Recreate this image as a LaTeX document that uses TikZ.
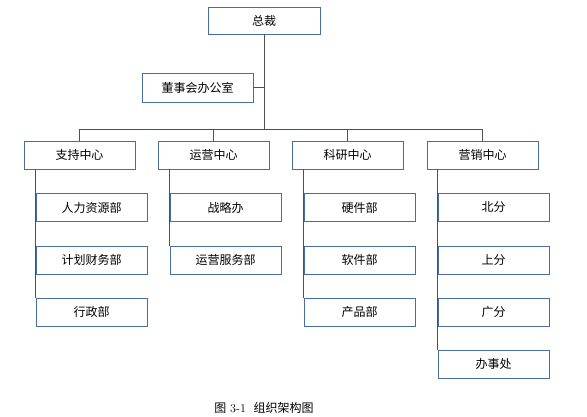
\documentclass[tikz,border=0pt]{standalone}
\usepackage{fontspec}
\usepackage{tikz}
\newfontfamily\cjk{Noto Sans CJK SC}
\definecolor{boxblue}{RGB}{70, 110, 160}
\definecolor{linegray}{RGB}{80, 80, 80}
\usetikzlibrary{positioning, calc}

\begin{document}
\begin{tikzpicture}[
    x=1pt, y=-1pt,
    unit/.style={rectangle, draw=boxblue, line width=0.8pt, fill=white, minimum width=111pt, minimum height=28pt, inner sep=0pt, align=center, font=\cjk\fontsize{12}{14}\selectfont},
    link/.style={draw=linegray, line width=0.8pt}
]
    \useasboundingbox (0, 0) rectangle (587, 416);

    % Top level
    \node[unit, minimum width=112pt, minimum height=27pt] (ceo) at (264, 20.5) {总裁};
    \node[unit, minimum height=29pt] (board) at (197.5, 87.5) {董事会办公室};
    \coordinate (bus) at (264, 129);

    \draw[link] (ceo.south) -- (bus);
    \draw[link] (board.east) -- (board.east -| ceo.south);

    % Centers
    \node[unit] (c1) at (79.5, 155) {支持中心};
    \node[unit] (c2) at (213.5, 155) {运营中心};
    \node[unit] (c3) at (347.5, 155) {科研中心};
    \node[unit] (c4) at (482.5, 155) {营销中心};

    \draw[link] (c1.north) -- (c1.north |- bus) -- (c4.north |- bus) -- (c4.north);
    \draw[link] (c2.north) -- (c2.north |- bus);
    \draw[link] (c3.north) -- (c3.north |- bus);

    % Support center
    \node[unit] (s1) at (91.5, 207.5) {人力资源部};
    \node[unit] (s2) at (91.5, 260) {计划财务部};
    \node[unit] (s3) at (91.5, 312) {行政部};
    \draw[link] (s1.west |- c1.south) -- (s3.north west);

    % Operations center
    \node[unit] (o1) at (225.5, 207.5) {战略办};
    \node[unit] (o2) at (225.5, 260) {运营服务部};
    \draw[link] (o1.west |- c2.south) -- (o2.north west);

    % R&D center
    \node[unit] (r1) at (359.5, 207.5) {硬件部};
    \node[unit] (r2) at (359.5, 260) {软件部};
    \node[unit] (r3) at (359.5, 312) {产品部};
    \draw[link] (r1.west |- c3.south) -- (r3.north west);

    % Marketing center
    \node[unit] (m1) at (493.5, 207.5) {北分};
    \node[unit] (m2) at (493.5, 260) {上分};
    \node[unit] (m3) at (493.5, 312) {广分};
    \node[unit] (m4) at (493.5, 364) {办事处};
    \draw[link] (m1.west |- c4.south) -- (m4.north west);

    \node[font=\fontsize{12}{14}\selectfont] (caption) at (264, 408) {{\cjk 图} 3-1\ \ {\cjk 组织架构图}};

\end{tikzpicture}
\end{document}
